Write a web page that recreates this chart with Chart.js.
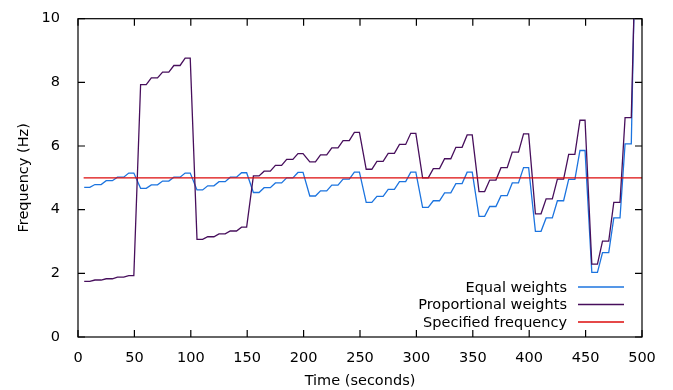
<!DOCTYPE html>
<html>
<head>
<meta charset="utf-8">
<script src="https://cdn.jsdelivr.net/npm/chart.js@4/dist/chart.umd.min.js"></script>
<style>
    html, body { margin: 0; padding: 0; background: #fff; }
    #wrap { width: 673px; height: 390px; }
</style>
</head>
<body>
<div id="wrap"><canvas id="freqChart" width="673" height="390"></canvas></div>
<script>
const FONT = "'DejaVu Sans', sans-serif";

// every step of the controller: start and end time (s)
const stepStart = [
    5.5, 15, 25, 35, 45,
    55.5, 65, 75, 85, 95,
    105.5, 115, 125, 135, 145,
    155.5, 165, 175, 185, 195,
    205.5, 215, 225, 235, 245,
    255.5, 265, 275, 285, 295,
    305.5, 315, 325, 335, 345,
    355.5, 365, 375, 385, 395,
    405.5, 415, 425, 435, 445,
    455.5, 465, 475, 485, 495
];
const stepEnd = [
    10.5, 20.5, 30.5, 40.5, 49.5,
    60.5, 70.5, 80.5, 90.5, 99.5,
    110.5, 120.5, 130.5, 140.5, 149.5,
    160.5, 170.5, 180.5, 190.5, 199.5,
    210.5, 220.5, 230.5, 240.5, 249.5,
    260.5, 270.5, 280.5, 290.5, 299.5,
    310.5, 320.5, 330.5, 340.5, 349.5,
    360.5, 370.5, 380.5, 390.5, 399.5,
    410.5, 420.5, 430.5, 440.5, 449.5,
    460.5, 470.5, 480.5, 490.5, 500
];

const equalWeights = [
    4.70, 4.79, 4.91, 5.02, 5.15,
    4.67, 4.78, 4.90, 5.02, 5.15,
    4.62, 4.75, 4.88, 5.02, 5.16,
    4.54, 4.69, 4.84, 5.00, 5.17,
    4.43, 4.59, 4.77, 4.96, 5.18,
    4.23, 4.42, 4.64, 4.88, 5.18,
    4.07, 4.28, 4.53, 4.82, 5.18,
    3.79, 4.10, 4.44, 4.84, 5.32,
    3.32, 3.74, 4.28, 4.95, 5.86,
    2.03, 2.65, 3.74, 6.07, 14.0
];
const proportionalWeights = [
    1.75, 1.79, 1.83, 1.88, 1.93,
    7.93, 8.14, 8.32, 8.53, 8.76,
    3.07, 3.15, 3.24, 3.33, 3.45,
    5.06, 5.21, 5.39, 5.58, 5.76,
    5.50, 5.72, 5.94, 6.17, 6.43,
    5.27, 5.52, 5.77, 6.05, 6.40,
    5.00, 5.29, 5.60, 5.96, 6.35,
    4.57, 4.93, 5.32, 5.81, 6.38,
    3.87, 4.34, 4.96, 5.74, 6.81,
    2.29, 3.01, 4.23, 6.89, 13.2
];

const specTimes = [5, 500];
const specValues = [5, 5];

const xTicks = [0, 50, 100, 150, 200, 250, 300, 350, 400, 450, 500];
const yTicks = [0, 2, 4, 6, 8, 10];

const labels = ["Equal weights", "Proportional weights", "Specified frequency"];
const colors = ["#1c74df", "#470f5c", "#dd0b0b"];

function steps(levels) {
    const pts = [];
    levels.forEach((v, i) => {
        pts.push({ x: stepStart[i], y: v });
        pts.push({ x: stepEnd[i], y: v });
    });
    return pts;
}

const framePlugin = {
    id: "frame",
    afterDatasetsDraw(chart) {
        const { ctx, chartArea: a, scales } = chart;
        ctx.save();
        ctx.strokeStyle = "#000";
        ctx.lineWidth = 1.2;
        ctx.strokeRect(a.left, a.top, a.right - a.left, a.bottom - a.top);

        ctx.beginPath();
        xTicks.forEach(t => {
            const px = scales.x.getPixelForValue(t);
            ctx.moveTo(px, a.bottom); ctx.lineTo(px, a.bottom - 7);
            ctx.moveTo(px, a.top); ctx.lineTo(px, a.top + 7);
        });
        yTicks.forEach(t => {
            const py = scales.y.getPixelForValue(t);
            ctx.moveTo(a.left, py); ctx.lineTo(a.left + 7, py);
            ctx.moveTo(a.right, py); ctx.lineTo(a.right - 7, py);
        });
        ctx.stroke();

        // key, bottom right, text right aligned with sample line after it
        ctx.font = `14.5px ${FONT}`;
        ctx.textAlign = "right";
        ctx.textBaseline = "middle";
        const rowY = [a.bottom - 50, a.bottom - 32.5, a.bottom - 15];
        labels.forEach((txt, i) => {
            ctx.fillStyle = "#000";
            ctx.fillText(txt, a.right - 75, rowY[i] + 1);
            ctx.strokeStyle = colors[i];
            ctx.lineWidth = 1.3;
            ctx.beginPath();
            ctx.moveTo(a.right - 64, rowY[i]);
            ctx.lineTo(a.right - 18, rowY[i]);
            ctx.stroke();
        });
        ctx.restore();
    }
};

window.onload = () => {
    new Chart(document.getElementById("freqChart"), {
        type: "line",
        data: {
            datasets: [
                {
                    label: labels[0],
                    data: steps(equalWeights),
                    borderColor: colors[0],
                    borderWidth: 1.3,
                    order: 3
                },
                {
                    label: labels[1],
                    data: steps(proportionalWeights),
                    borderColor: colors[1],
                    borderWidth: 1.3,
                    order: 2
                },
                {
                    label: labels[2],
                    data: specTimes.map((t, i) => ({ x: t, y: specValues[i] })),
                    borderColor: colors[2],
                    borderWidth: 1.3,
                    order: 1
                }
            ]
        },
        options: {
            responsive: false,
            animation: false,
            devicePixelRatio: 1,
            layout: { padding: { left: 0, right: 31, top: 15, bottom: 0 } },
            elements: {
                point: { radius: 0 },
                line: { tension: 0, fill: false }
            },
            plugins: {
                legend: { display: false },
                tooltip: { enabled: false }
            },
            scales: {
                x: {
                    type: "linear",
                    min: 0,
                    max: 500,
                    afterFit: s => { s.height = 53; },
                    afterBuildTicks: s => { s.ticks = xTicks.map(v => ({ value: v })); },
                    grid: { display: false },
                    border: { display: false },
                    ticks: { color: "#000", padding: 5, maxRotation: 0, font: { family: FONT, size: 14.5 } },
                    title: {
                        display: true,
                        text: "Time (seconds)",
                        color: "#000",
                        padding: { top: 0, bottom: 0 },
                        font: { family: FONT, size: 14.5 }
                    }
                },
                y: {
                    min: 0,
                    max: 10,
                    afterFit: s => { s.width = 78; },
                    afterBuildTicks: s => { s.ticks = yTicks.map(v => ({ value: v })); },
                    grid: { display: false },
                    border: { display: false },
                    ticks: { color: "#000", padding: 10, font: { family: FONT, size: 14.5 } },
                    title: {
                        display: true,
                        text: "Frequency (Hz)",
                        color: "#000",
                        padding: { top: 16, bottom: 0 },
                        font: { family: FONT, size: 14.5 }
                    }
                }
            }
        },
        plugins: [framePlugin]
    });
};
</script>
</body>
</html>
